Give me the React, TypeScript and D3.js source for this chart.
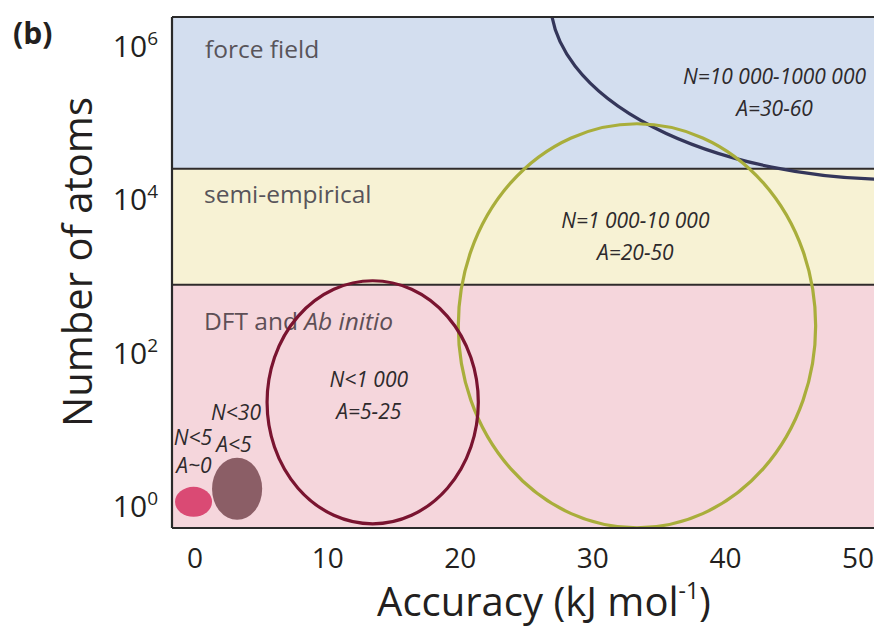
import React from "react";
import * as d3 from "d3";

// ---------- data ----------
const xTicks = [0, 10, 20, 30, 40, 50];
const yTickExponents = [0, 2, 4, 6];

// method bands (number of atoms ranges)
const bandNames = ["DFT and Ab initio", "semi-empirical", "force field"];
const bandLowN = [0.513, 770, 25000];
const bandHighN = [770, 25000, 2.4e6];
const bandColors = ["#f5d6dc", "#f7f2d4", "#d3deef"];

// ellipses: accuracy range (kJ/mol) and number of atoms range
const ellipseNames = ["navy", "olive", "darkred", "brown", "pink"];
const ellipseAMin = [26.8, 19.85, 5.43, 1.28, -1.51];
const ellipseAMax = [79.6, 46.8, 21.36, 5.06, 1.28];
const ellipseNMin = [18030, 0.516, 0.582, 0.656, 0.718];
const ellipseNMax = [9.04e8, 97000, 865, 4.24, 1.77];
const ellipseStroke = ["#34365a", "#a9ae3b", "#7a1430", "none", "none"];
const ellipseFill = ["none", "none", "none", "#8b5e66", "#da4a74"];

// ellipse annotations: [line1, line2], anchor accuracy and N
const annoLine1 = ["N=10 000-1000 000", "N=1 000-10 000", "N<1 000"];
const annoLine2 = ["A=30-60", "A=20-50", "A=5-25"];
const annoA = [43.7, 33.2, 13.1];
const annoN = [3.2e5, 4200, 35];

const W = 874;
const H = 637;
const plotLeft = 172;
const plotRight = 874;
const plotTop = 17;
const plotBottom = 528;

export default function App() {
  const x = d3.scaleLinear().domain([-1.74, 51.2]).range([plotLeft, plotRight]);
  const y = d3
    .scaleLog()
    .domain([Math.pow(10, -0.29), Math.pow(10, 6.38)])
    .range([plotBottom, plotTop]);

  const font = "'Open Sans', 'Noto Sans', sans-serif";

  return (
    <div style={{ position: "absolute", left: 0, top: 0 }}>
      <svg width={W} height={H} style={{ display: "block", background: "#fff" }} fontFamily={font}>
        <defs>
          <clipPath id="plotclip">
            <rect x={plotLeft} y={plotTop} width={plotRight - plotLeft} height={plotBottom - plotTop} />
          </clipPath>
        </defs>

        {/* bands */}
        {bandNames.map((n, i) => (
          <rect
            key={n}
            x={plotLeft}
            width={plotRight - plotLeft}
            y={y(bandHighN[i])}
            height={y(bandLowN[i]) - y(bandHighN[i])}
            fill={bandColors[i]}
          />
        ))}
        {/* band boundaries */}
        {bandLowN.slice(1).map((v) => (
          <line key={v} x1={plotLeft} x2={plotRight} y1={y(v)} y2={y(v)} stroke="#2f2b2b" strokeWidth={2} />
        ))}

        {/* band labels */}
        <g fontSize={24.5} fill="#58545a">
          <text x={205} y={y(bandHighN[2]) + 41}>force field</text>
          <text x={204} y={y(bandHighN[1]) + 34}>semi-empirical</text>
          <text x={204} y={y(bandHighN[0]) + 45} fill="#5e4f56">
            DFT and <tspan fontStyle="italic">Ab initio</tspan>
          </text>
        </g>

        {/* ellipses */}
        <g clipPath="url(#plotclip)">
          {ellipseNames.map((n, i) => {
            const x0 = x(ellipseAMin[i]);
            const x1 = x(ellipseAMax[i]);
            const y0 = y(ellipseNMax[i]);
            const y1 = y(ellipseNMin[i]);
            return (
              <ellipse
                key={n}
                cx={(x0 + x1) / 2}
                cy={(y0 + y1) / 2}
                rx={(x1 - x0) / 2}
                ry={(y1 - y0) / 2}
                fill={ellipseFill[i]}
                stroke={ellipseStroke[i]}
                strokeWidth={3.2}
              />
            );
          })}
        </g>

        {/* ellipse annotations */}
        <g fontSize={21} fontStyle="italic" fill="#2e2a2c" textAnchor="middle">
          {annoLine1.map((t, i) => (
            <text key={t} x={x(annoA[i])} y={y(annoN[i])}>
              <tspan x={x(annoA[i])}>{t}</tspan>
              <tspan x={x(annoA[i])} dy={32}>{annoLine2[i]}</tspan>
            </text>
          ))}
          <text x={236} y={420}>N&lt;30</text>
          <text x={193} y={445}>N&lt;5</text>
          <text x={234} y={452}>A&lt;5</text>
          <text x={194} y={473}>A~0</text>
        </g>

        {/* frame */}
        <g stroke="#2a2a2a" strokeWidth={2.2} fill="none">
          <line x1={plotLeft} x2={plotRight} y1={plotTop} y2={plotTop} />
          <line x1={plotLeft} x2={plotRight} y1={plotBottom} y2={plotBottom} />
          <line x1={plotLeft} x2={plotLeft} y1={plotTop} y2={plotBottom} />
        </g>

        {/* y tick labels */}
        <g fontSize={30} fill="#231f20" textAnchor="end">
          {yTickExponents.map((e) => (
            <text key={e} x={158} y={y(Math.pow(10, e)) + 11}>
              10
              <tspan fontSize={19} dy={-12}>{e}</tspan>
            </text>
          ))}
        </g>

        {/* x tick labels */}
        <g fontSize={28} fill="#231f20" textAnchor="middle">
          {xTicks.map((t) => (
            <text key={t} x={x(t)} y={568}>
              {t}
            </text>
          ))}
        </g>

        {/* axis titles */}
        <text x={544} y={616} fontSize={40} textAnchor="middle" fill="#231f20">
          Accuracy (kJ mol
          <tspan fontSize={23} dy={-17}>-1</tspan>
          <tspan dy={17}>)</tspan>
        </text>
        <text
          transform={`translate(92, 262) rotate(-90)`}
          fontSize={40}
          textAnchor="middle"
          fill="#231f20"
        >
          Number of atoms
        </text>

        <text x={13} y={44} fontSize={30} fontWeight="bold" fill="#231f20">
          (b)
        </text>
      </svg>
    </div>
  );
}
